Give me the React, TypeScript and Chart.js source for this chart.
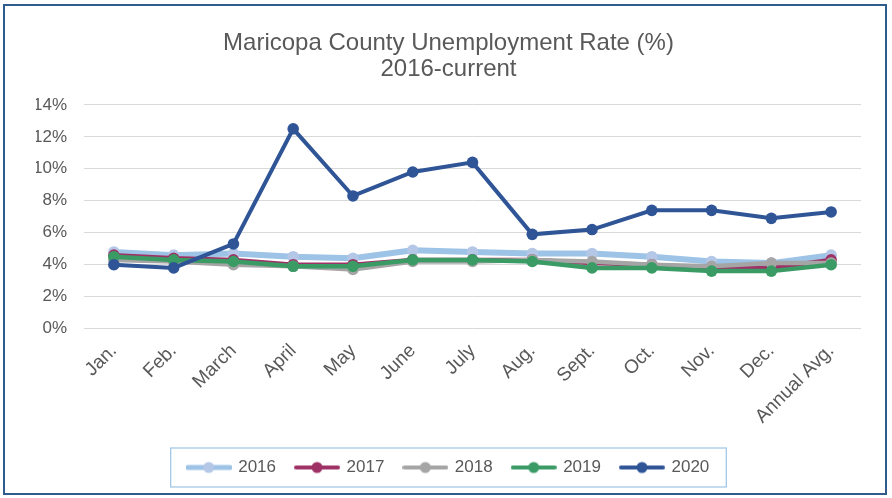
import React, { useEffect, useRef } from "react";
import { Chart, registerables } from "chart.js";

Chart.register(...registerables);

const categories = ["Jan.", "Feb.", "March", "April", "May", "June", "July", "Aug.", "Sept.", "Oct.", "Nov.", "Dec.", "Annual Avg."];
const seriesNames = ["2016", "2017", "2018", "2019", "2020"];
const values2016 = [4.8, 4.6, 4.7, 4.5, 4.4, 4.9, 4.8, 4.7, 4.7, 4.5, 4.2, 4.1, 4.6];
const values2017 = [4.6, 4.4, 4.3, 4.0, 4.0, 4.3, 4.3, 4.3, 4.1, 4.0, 3.8, 3.8, 4.3];
const values2018 = [4.3, 4.2, 4.0, 3.9, 3.7, 4.2, 4.2, 4.3, 4.2, 4.0, 3.9, 4.1, 4.1];
const values2019 = [4.5, 4.3, 4.2, 3.9, 3.9, 4.3, 4.3, 4.2, 3.8, 3.8, 3.6, 3.6, 4.0];
const values2020 = [4.0, 3.8, 5.3, 12.5, 8.3, 9.8, 10.4, 5.9, 6.2, 7.4, 7.4, 6.9, 7.3];
const titleLines = ["Maricopa County Unemployment Rate (%)", "2016-current"];

const lineColors = ["#9DC3E6", "#9E3267", "#A5A5A5", "#3A9B65", "#2F5597"];
const pointColors = ["#B4C7E7", "#9E3267", "#A5A5A5", "#3A9B65", "#2F5597"];
const lineWidths = [6, 4.5, 4.5, 4.5, 4];

const FONT = "'Liberation Sans', Arial, sans-serif";
const TEXT = "#595959";

function makeLegendIcon(i: number): HTMLCanvasElement {
  const c = document.createElement("canvas");
  c.width = 46;
  c.height = 14;
  const ctx = c.getContext("2d")!;
  ctx.strokeStyle = lineColors[i];
  ctx.lineWidth = i === 0 ? 5 : 4;
  ctx.lineCap = "round";
  ctx.beginPath();
  ctx.moveTo(2, 7);
  ctx.lineTo(44, 7);
  ctx.stroke();
  ctx.fillStyle = pointColors[i];
  ctx.beginPath();
  ctx.arc(23, 7, 5.5, 0, Math.PI * 2);
  ctx.fill();
  return c;
}

const legendBoxPlugin = {
  id: "legendBox",
  afterDraw(chart: any) {
    const lg = chart.legend;
    if (!lg || !lg.legendHitBoxes || !lg.legendHitBoxes.length) return;
    const boxes = lg.legendHitBoxes;
    let l = Infinity, r = -Infinity, t = Infinity, b = -Infinity;
    boxes.forEach((h: any) => {
      l = Math.min(l, h.left);
      r = Math.max(r, h.left + h.width);
      t = Math.min(t, h.top);
      b = Math.max(b, h.top + h.height);
    });
    const ctx = chart.ctx;
    ctx.save();
    ctx.strokeStyle = "#9DC3E6";
    ctx.lineWidth = 1.2;
    ctx.strokeRect(l - 17, t - 11, r - l + 34, b - t + 22);
    ctx.restore();
  },
};

export default function App() {
  const ref = useRef<HTMLCanvasElement | null>(null);
  useEffect(() => {
    document.body.style.margin = "0";
    const all = [values2016, values2017, values2018, values2019, values2020];
    const icons = seriesNames.map((_, i) => makeLegendIcon(i));
    const chart = new Chart(ref.current!, {
      type: "line",
      data: {
        labels: categories,
        datasets: seriesNames.map((name, i) => ({
          label: name,
          data: all[i],
          borderColor: lineColors[i],
          backgroundColor: pointColors[i],
          pointBackgroundColor: pointColors[i],
          pointBorderColor: pointColors[i],
          borderWidth: lineWidths[i],
          pointRadius: 5.8,
          pointBorderWidth: 0,
          tension: 0,
          order: 4 - i,
        })),
      },
      options: {
        animation: false,
        responsive: true,
        maintainAspectRatio: false,
        layout: { padding: { left: 36, right: 31, top: 22, bottom: 12 } },
        plugins: {
          tooltip: { enabled: false },
          title: {
            display: true,
            text: titleLines,
            color: TEXT,
            font: { family: FONT, size: 24, weight: "normal", lineHeight: 1.08 },
            padding: { top: 8, bottom: 23 },
          },
          legend: {
            position: "bottom",
            labels: {
              color: TEXT,
              font: { family: FONT, size: 17 },
              usePointStyle: true,
              pointStyleWidth: 42,
              padding: 20,
              sort: (a: any, b: any) => a.datasetIndex - b.datasetIndex,
              generateLabels: () =>
                seriesNames.map((n, i) => ({
                  text: n,
                  datasetIndex: i,
                  pointStyle: icons[i],
                  fillStyle: pointColors[i],
                  strokeStyle: pointColors[i],
                  lineWidth: 0,
                  hidden: false,
                  fontColor: TEXT,
                })),
            },
          },
        },
        scales: {
          x: {
            offset: true,
            grid: { display: false, drawTicks: false },
            border: { display: false },
            ticks: {
              color: TEXT,
              font: { family: FONT, size: 19 },
              maxRotation: 45,
              minRotation: 45,
              padding: 11,
              autoSkip: false,
            },
          },
          y: {
            min: 0,
            max: 14,
            grid: { color: "#D9D9D9", lineWidth: 1, drawTicks: false },
            border: { display: false },
            afterFit: (scale: any) => {
              scale.width = 48;
            },
            ticks: {
              stepSize: 2,
              color: TEXT,
              font: { family: FONT, size: 17 },
              padding: 17,
              callback: (v: any) => v + "%",
            },
          },
        },
      },
      plugins: [legendBoxPlugin],
    } as any);
    return () => chart.destroy();
  }, []);
  return (
    <div style={{ position: "relative", width: 892, height: 498, background: "#fff" }}>
      <canvas ref={ref} />
      <div
        style={{
          position: "absolute",
          left: 3,
          top: 4,
          width: 884,
          height: 491,
          border: "2px solid #2F5B8E",
          boxSizing: "border-box",
          pointerEvents: "none",
        }}
      />
    </div>
  );
}
